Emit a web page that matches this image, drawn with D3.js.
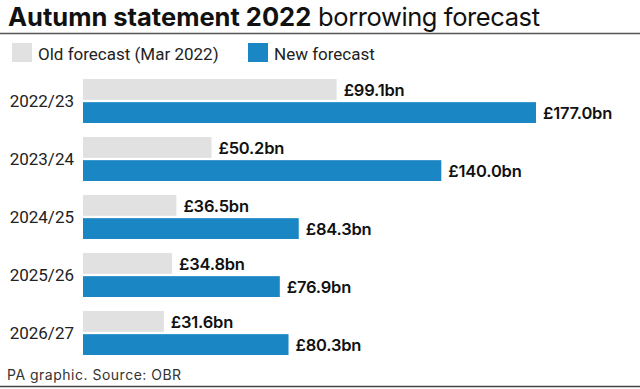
<!DOCTYPE html>
<html>
<head>
<meta charset="utf-8">
<script src="https://cdn.jsdelivr.net/npm/d3@7"></script>
<style>
  body { margin: 0; background: #fff; }
  svg { display: block; }
</style>
</head>
<body>
<svg width="640" height="389"></svg>
<script>
// data
var years = ["2022/23", "2023/24", "2024/25", "2025/26", "2026/27"];
var series = ["old", "new"];
var seriesLabels = ["Old forecast (Mar 2022)", "New forecast"];
var oldForecast = [99.1, 50.2, 36.5, 34.8, 31.6];
var newForecast = [177.0, 140.0, 84.3, 76.9, 80.3];

var colors = { old: "#e1e1e2", "new": "#1a87c4" };

var svg = d3.select("svg");

// title
var title = svg.append("text")
    .attr("x", 8)
    .attr("y", 25.5)
    .style("font-family", "Inter, sans-serif")
    .style("font-size", "25.5px")
    .style("fill", "#111");
title.append("tspan").style("font-weight", "700").style("letter-spacing", "0px").text("Autumn statement 2022");
title.append("tspan").style("font-weight", "400").style("letter-spacing", "-0.4px").text(" borrowing forecast");

svg.append("line")
    .attr("x1", 0).attr("x2", 640)
    .attr("y1", 33.5).attr("y2", 33.5)
    .style("stroke", "#555")
    .style("stroke-width", 1.5);

// legend
var legendX = [12, 248];
var legend = svg.selectAll(".legend")
    .data(series)
    .enter().append("g")
    .attr("transform", function(d, i) { return "translate(" + legendX[i] + ",43)"; });
legend.append("rect")
    .attr("width", 20).attr("height", 19)
    .style("fill", function(d) { return colors[d]; });
legend.append("text")
    .attr("x", 26).attr("y", 17)
    .style("font-family", "Roboto, sans-serif")
    .style("font-size", "17px")
    .style("fill", "#222")
    .text(function(d, i) { return seriesLabels[i]; });

// scales
var x0 = 83;
var x = d3.scaleLinear().domain([0, 177]).range([x0, 536]);
var y = d3.scaleBand().domain(years).range([79, 369]);
var ySub = d3.scaleBand().domain(series).range([0, 44]).paddingInner(0.1);

var rows = years.map(function(d, i) {
    return { year: d, values: [
        { key: "old", value: oldForecast[i] },
        { key: "new", value: newForecast[i] }
    ] };
});

var row = svg.selectAll(".row")
    .data(rows)
    .enter().append("g")
    .attr("transform", function(d) { return "translate(0," + y(d.year) + ")"; });

row.append("text")
    .attr("x", 74)
    .attr("y", 22)
    .attr("dy", "0.35em")
    .style("text-anchor", "end")
    .style("font-family", "Roboto, sans-serif")
    .style("font-size", "17px")
    .style("fill", "#222")
    .text(function(d) { return d.year; });

row.selectAll("rect")
    .data(function(d) { return d.values; })
    .enter().append("rect")
    .attr("x", x0)
    .attr("y", function(d) { return ySub(d.key); })
    .attr("width", function(d) { return x(d.value) - x0; })
    .attr("height", ySub.bandwidth())
    .style("fill", function(d) { return colors[d.key]; });

row.selectAll(".val")
    .data(function(d) { return d.values; })
    .enter().append("text")
    .attr("x", function(d) { return x(d.value) + 7; })
    .attr("y", function(d) { return ySub(d.key) + ySub.bandwidth() / 2; })
    .attr("dy", "0.38em")
    .style("font-family", "Inter, sans-serif")
    .style("font-weight", "600")
    .style("font-size", "16.5px")
    .style("letter-spacing", "-0.2px")
    .style("fill", "#111")
    .text(function(d) { return "£" + d.value.toFixed(1) + "bn"; });

// footer
svg.append("text")
    .attr("x", 7).attr("y", 379.5)
    .style("font-family", "Inter, sans-serif")
    .style("font-size", "14px")
    .style("letter-spacing", "0.5px")
    .style("fill", "#333")
    .text("PA graphic. Source: OBR");

svg.append("line")
    .attr("x1", 0).attr("x2", 640)
    .attr("y1", 386.5).attr("y2", 386.5)
    .style("stroke", "#444")
    .style("stroke-width", 1.5);
</script>
</body>
</html>
